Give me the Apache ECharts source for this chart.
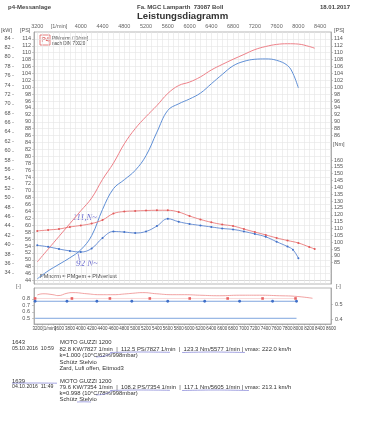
<!DOCTYPE html>
<html><head><meta charset="utf-8">
<script src="https://cdn.jsdelivr.net/npm/echarts@6/dist/echarts.min.js"></script>
<style>html,body{margin:0;padding:0;background:#fff}#c{width:365px;height:438px}</style>
</head><body><div id="c"></div>
<script>
// ---- data ----
const rpmRed = [3200,3400,3600,3800,4000,4200,4400,4600,4800,5000,5200,5400,5600,5800,6000,6200,6400,6600,6800,7000,7200,7400,7600,7800,8000,8200,8300];
const psRed  = [49.4,53.1,56.8,60.5,64.2,67.9,73.3,78.0,83.6,88.0,91.5,94.7,98.2,100.5,101.5,103.0,105.0,106.6,108.1,109.5,110.9,111.8,112.4,112.6,112.5,111.8,111.3];
const nmRed  = [108.2,108.9,109.6,111.1,112.2,113.6,116.2,120.9,122.4,122.8,123.1,123.3,123.3,122.0,119.1,116.6,114.5,112.9,111.8,109.6,107.4,105.3,103.1,101.2,99.4,96.5,95.0];

const rpmBlue = [3200,3400,3600,3800,4000,4200,4400,4600,4800,5000,5200,5400,5600,5800,6000,6200,6400,6600,6800,7000,7200,7400,7600,7800,7900,8000];
const psBlue  = [44.5,46.8,48.7,50.6,52.9,57.0,64.6,70.6,73.2,75.9,80.2,87.0,93.3,95.2,96.6,98.3,101.0,103.7,106.2,107.5,108.1,108.2,107.8,106.3,104.0,99.8];
const nmBlue  = [97.7,96.6,95.0,93.6,92.8,95.4,103.1,107.8,107.4,106.7,107.8,111.8,117.1,114.9,113.3,112.2,111.1,110.0,109.3,107.8,106.0,103.9,100.3,96.8,94.5,88.3];

// lower panel
const rpmLossRed = [3200,3305,3489,3580,3746,3856,4113,4351,4590,4847,4957,5140,5397,5691,5911,6186,6553,6920,7287,7654,7929,8260];
const lossRed    = [0.862,0.880,0.866,0.852,0.888,0.898,0.880,0.866,0.866,0.880,0.888,0.898,0.880,0.866,0.866,0.858,0.850,0.858,0.858,0.850,0.842,0.811];
const rpmMarkRed = [3160,3837,4535,5269,6003,6700,7342,7948];
const markRed    = [0.808,0.808,0.808,0.808,0.808,0.808,0.808,0.808];
const rpmMarkBlue = [3160,3746,4296,4938,5599,6278,6920,7526,7966];
const markBlue    = [0.765,0.765,0.765,0.765,0.765,0.765,0.765,0.765,0.765];
const rpmLowBlue = [3160,7966];
const lowBlue    = [0.503,0.503];

// tick labels
const topTicks = [3200,3600,4000,4400,4800,5200,5600,6000,6400,6800,7200,7600,8000,8400];
const bottomFirstLabel = '3200[1/min]';
const bottomTicks = [3600,3800,4000,4200,4400,4600,4800,5000,5200,5400,5600,5800,6000,6200,6400,6600,6800,7000,7200,7400,7600,7800,8000,8200,8400,8600];
const gridX = [3200,3300,3400,3500,3600,3700,3800,3900,4000,4100,4200,4300,4400,4500,4600,4700,4800,4900,5000,5100,5200,5300,5400,5500,5600,5700,5800,5900,6000,6100,6200,6300,6400,6500,6600,6700,6800,6900,7000,7100,7200,7300,7400,7500,7600,7700,7800,7900,8000,8100,8200,8300,8400,8500];
const psLeftTicks = [44,46,48,50,52,54,56,58,60,62,64,66,68,70,72,74,76,78,80,82,84,86,88,90,92,94,96,98,100,102,104,106,108,110,112,114];
const kwTicks = [34,36,38,40,42,44,46,48,50,52,54,56,58,60,62,64,66,68,70,72,74,76,78,80,82,84];
const psRightTicks = [86,88,90,92,94,96,98,100,102,104,106,108,110,112,114];
const nmTicks = [85,90,95,100,105,110,115,120,125,130,135,140,145,150,155,160];
const lowLeftTicks = [0.5,0.6,0.7,0.8];
const lowRightTicks = [0.4,0.5];

const pair = (xs, ys) => xs.map((x, i) => [x, ys[i]]);
const F = "'Liberation Sans', Arial, sans-serif";
const lab = (vals, extra) => Object.assign({customValues: vals, fontSize: 5.5, color: '#555', fontFamily: F, hideOverlap: false}, extra || {});

const chart = echarts.init(document.getElementById('c'), null, {renderer: 'canvas'});
const t = (x, y, text, style) => ({type: 'text', left: x, top: y, silent: true,
  style: Object.assign({text: text, fontSize: 5.9, fill: '#333', fontFamily: F}, style || {})});
const ln = (pts, color, w) => ({type: 'polyline', silent: true, shape: {points: pts, smooth: 0.3},
  style: {stroke: color, lineWidth: w || 0.7, fill: null}});
const hand = '#6464cc';

chart.setOption({
  animation: false,
  backgroundColor: '#fff',
  grid: [
    {left: 34, top: 32, width: 297, height: 252, show: true, borderColor: '#999', borderWidth: 0.7},
    {left: 34, top: 288, width: 297, height: 36, show: true, borderColor: '#999', borderWidth: 0.7}
  ],
  xAxis: [
    {gridIndex: 0, type: 'value', position: 'top', min: 3140, max: 8600,
     axisLine: {show: false}, axisTick: {show: false, customValues: gridX},
     axisLabel: lab(topTicks, {margin: 3, color: '#666', formatter: v => v === 3600 ? '[1/min]' : String(v)}),
     splitLine: {show: true, lineStyle: {color: '#e4e4e4', width: 0.6}}},
    {gridIndex: 1, type: 'value', position: 'bottom', min: 3140, max: 8600,
     axisLine: {show: true, lineStyle: {color: '#999', width: 0.7}},
     axisTick: {show: true, customValues: gridX, length: 1.5, lineStyle: {color: '#999', width: 0.5}},
     axisLabel: lab(bottomTicks, {fontSize: 4.5, margin: 2, color: '#444', formatter: v => String(v)}),
     splitLine: {show: false}}
  ],
  yAxis: [
    {gridIndex: 0, type: 'value', position: 'left', min: 43, max: 116,
     axisLine: {show: true, lineStyle: {color: '#999', width: 0.7}},
     axisTick: {show: true, customValues: psLeftTicks, length: 2, lineStyle: {color: '#999', width: 0.5}},
     axisLabel: lab(psLeftTicks, {margin: 3}),
     splitLine: {show: true, lineStyle: {color: '#e4e4e4', width: 0.6}}},
    {gridIndex: 0, type: 'value', position: 'left', offset: 20, min: 43 / 1.36, max: 116 / 1.36,
     axisLine: {show: false},
     axisTick: {show: true, customValues: kwTicks, length: 2, lineStyle: {color: '#999', width: 0.5}},
     axisLabel: lab(kwTicks, {margin: 3.5}),
     splitLine: {show: false}},
    {gridIndex: 0, type: 'value', position: 'right', min: 43, max: 116,
     axisLine: {show: true, lineStyle: {color: '#999', width: 0.7}},
     axisTick: {show: true, customValues: psRightTicks, length: 2, lineStyle: {color: '#999', width: 0.5}},
     axisLabel: lab(psRightTicks, {margin: 3}),
     splitLine: {show: false}},
    {gridIndex: 0, type: 'value', position: 'right', min: 69.44, max: 253.5,
     axisLine: {show: false},
     axisTick: {show: true, customValues: nmTicks, length: 2, lineStyle: {color: '#999', width: 0.5}},
     axisLabel: lab(nmTicks, {margin: 3}),
     splitLine: {show: false}},
    {gridIndex: 1, type: 'value', position: 'left', min: 0.415, max: 0.969,
     axisLine: {show: true, lineStyle: {color: '#999', width: 0.7}},
     axisTick: {show: true, customValues: lowLeftTicks, length: 2, lineStyle: {color: '#999', width: 0.5}},
     axisLabel: lab(lowLeftTicks, {margin: 4, formatter: v => v.toFixed(1)}),
     splitLine: {show: false}},
    {gridIndex: 1, type: 'value', position: 'right', min: 0.367, max: 0.607,
     axisLine: {show: true, lineStyle: {color: '#999', width: 0.7}},
     axisTick: {show: true, customValues: lowRightTicks, length: 2, lineStyle: {color: '#999', width: 0.5}},
     axisLabel: lab(lowRightTicks, {margin: 4, formatter: v => v.toFixed(1)}),
     splitLine: {show: false}}
  ],
  series: [
    {type: 'line', xAxisIndex: 0, yAxisIndex: 0, data: pair(rpmRed, psRed), smooth: 0.4, showSymbol: false,
     lineStyle: {color: '#ee8088', width: 1}},
    {type: 'line', xAxisIndex: 0, yAxisIndex: 0, data: pair(rpmBlue, psBlue), smooth: 0.4, showSymbol: false,
     lineStyle: {color: '#5f8fd6', width: 1}},
    {type: 'line', xAxisIndex: 0, yAxisIndex: 3, data: pair(rpmRed, nmRed), smooth: 0.4, showSymbol: true, showAllSymbol: true,
     symbol: 'circle', symbolSize: 2, itemStyle: {color: '#e05858'}, lineStyle: {color: '#e86a6a', width: 0.8}},
    {type: 'line', xAxisIndex: 0, yAxisIndex: 3, data: pair(rpmBlue, nmBlue), smooth: 0.4, showSymbol: true, showAllSymbol: true,
     symbol: 'circle', symbolSize: 2, itemStyle: {color: '#3f6fc8'}, lineStyle: {color: '#4a78cc', width: 0.8}},
    {type: 'line', xAxisIndex: 1, yAxisIndex: 4, data: pair(rpmLossRed, lossRed), smooth: 0.5, showSymbol: false,
     lineStyle: {color: '#ee8a8a', width: 0.8}},
    {type: 'line', xAxisIndex: 1, yAxisIndex: 4, data: pair(rpmMarkRed, markRed), showSymbol: true,
     symbol: 'rect', symbolSize: 2.6, itemStyle: {color: '#e86060'}, lineStyle: {color: '#f4b0b0', width: 0.5}},
    {type: 'line', xAxisIndex: 1, yAxisIndex: 4, data: pair(rpmMarkBlue, markBlue), showSymbol: true,
     symbol: 'circle', symbolSize: 2.8, itemStyle: {color: '#3f6fc8'}, lineStyle: {color: '#5f8fd6', width: 0.8}},
    {type: 'line', xAxisIndex: 1, yAxisIndex: 4, data: pair(rpmLowBlue, lowBlue), showSymbol: false,
     lineStyle: {color: '#5f8fd6', width: 0.8}}
  ],
  graphic: [
    t(8, 4, 'p4-Messanlage', {fontWeight: 'bold', fontSize: 6, fill: '#444'}),
    t(137, 4, 'Fa. MGC Lamparth  73087 Boll', {fontWeight: 'bold', fontSize: 6, fill: '#444'}),
    t(320, 4, '18.01.2017', {fontWeight: 'bold', fontSize: 6, fill: '#444'}),
    t(137, 11, 'Leistungsdiagramm', {fontWeight: 'bold', fontSize: 9.6, fill: '#333'}),
    t(1, 27, '[kW]', {fill: '#555', fontSize: 5.5}),
    t(20, 27, '[PS]', {fill: '#555', fontSize: 5.5}),
    t(334, 27, '[PS]', {fill: '#555', fontSize: 5.5}),
    t(333, 141, '[Nm]', {fill: '#555', fontSize: 5.5}),
    t(16, 283, '[-]', {fill: '#555', fontSize: 5.5}),
    t(336, 283, '[-]', {fill: '#555', fontSize: 5.5}),
    t(32.5, 326, bottomFirstLabel, {fill: '#444', fontSize: 4.5}),
    {type: 'rect', silent: true, shape: {x: 40, y: 35, width: 10, height: 10},
     style: {fill: '#fff', stroke: '#e06060', lineWidth: 0.8}},
    t(41.5, 36.5, 'P4', {fontSize: 6.5, fontWeight: 'bold', fill: '#e06060'}),
    t(52, 36, 'P/Mnorm / [1/min]', {fontSize: 4.6, fill: '#444'}),
    t(52, 41, 'nach DIN 70020', {fontSize: 4.6, fill: '#444'}),
    t(40, 273, 'PMnorm = PMgem + PMverlust', {fontSize: 5.5, fill: '#444'}),
    {type: 'line', silent: true, shape: {x1: 34, y1: 280.5, x2: 331, y2: 280.5}, style: {stroke: '#aaa', lineWidth: 0.7}},
    // handwritten notes
    t(73, 213, '111,N~', {fontSize: 8.5, fontStyle: 'italic', fill: hand, fontFamily: "'Liberation Serif', serif"}),
    t(76, 259, '92 N~', {fontSize: 9, fontStyle: 'italic', fill: hand, fontFamily: "'Liberation Serif', serif"}),
    ln([[78, 253], [79, 258], [80, 262]], hand, 0.7),
    // bottom block
    t(12, 339, '1643'),
    t(60, 339, 'MOTO GUZZI 1200'),
    t(12, 346.3, '05.10.2016  10:59', {fontSize: 5.2}),
    t(59.5, 346, '82.8 KW/7827 1/min  |  112.5 PS/7827 1/min  |  123.3 Nm/5577 1/min | vmax: 222.0 km/h'),
    t(59.5, 352.5, 'k=1.000 (10°C/62%/998mbar)'),
    t(59.5, 359, 'Schütz Stelvio'),
    t(59.5, 365.5, 'Zard, Lufi offen, Eitmod3'),
    t(12, 378, '1639'),
    t(60, 378, 'MOTO GUZZI 1200'),
    t(12, 384.3, '04.10.2016  11:49', {fontSize: 5.2}),
    t(59.5, 384, '79.6 KW/7354 1/min  |  108.2 PS/7354 1/min  |  117.1 Nm/5605 1/min | vmax: 213.1 km/h'),
    t(59.5, 390, 'k=0.998 (10°C/78%/998mbar)'),
    t(59.5, 396.5, 'Schütz Stelvio'),
    ln([[110, 352.5], [140, 352], [170, 352.3]], hand, 0.6),
    ln([[182, 352.5], [212, 352], [245, 352.5]], hand, 0.6),
    ln([[112, 353], [105, 356], [96, 357]], hand, 0.5),
    ln([[12, 383.2], [35, 383], [57, 383.2]], hand, 0.6),
    ln([[110, 390.5], [140, 390], [170, 390.3]], hand, 0.6),
    ln([[182, 390.5], [215, 390], [249, 390.5]], hand, 0.6),
    ln([[112, 391], [105, 394], [96, 395]], hand, 0.5),
    ln([[77, 402], [84, 401.8], [91, 402]], hand, 0.6)
  ]
});
</script></body></html>
